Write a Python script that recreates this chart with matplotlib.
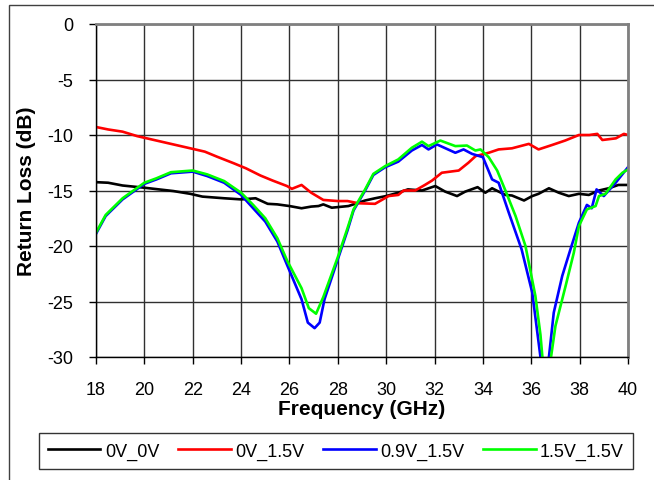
import matplotlib
matplotlib.use("Agg")
import matplotlib.pyplot as plt
from matplotlib.patches import Rectangle

plt.rcParams["font.family"] = ["Liberation Sans", "DejaVu Sans"]
plt.rcParams["axes.unicode_minus"] = False

# 0V_0V
f_00 = [18, 18.5, 19.1, 20, 21.2, 21.9, 22.4, 23.3, 24.0, 24.6, 25.1, 25.5, 26.0, 26.5,
        26.9, 27.2, 27.4, 27.75, 28.44, 29.13, 29.54, 30.0, 30.5, 30.9, 31.48, 32.03,
        32.44, 32.93, 33.27, 33.78, 34.1, 34.38, 34.93, 35.2, 35.7, 36.04, 36.3, 36.73,
        37.14, 37.55, 37.97, 38.38, 38.8, 39.2, 39.6, 40]
rl_00 = [-14.25, -14.3, -14.55, -14.75, -15.05, -15.3, -15.55, -15.7, -15.8, -15.7, -16.2,
         -16.25, -16.4, -16.6, -16.45, -16.4, -16.25, -16.55, -16.4, -15.9, -15.7, -15.5,
         -15.2, -14.9, -15.0, -14.6, -15.1, -15.5, -15.1, -14.7, -15.2, -14.8, -15.4,
         -15.45, -15.9, -15.5, -15.3, -14.8, -15.2, -15.5, -15.3, -15.4, -15.0, -14.8,
         -14.5, -14.5]

# 0V_1.5V
f_015 = [18, 18.5, 19.1, 19.7, 20.5, 21.2, 21.9, 22.5, 23.0, 23.7, 24.2, 24.8, 25.3, 25.9,
         26.1, 26.5, 26.9, 27.4, 28.0, 28.4, 28.85, 29.54, 30.1, 30.5, 30.72, 31.2, 31.6,
         31.9, 32.3, 33.0, 33.4, 33.7, 34.24, 34.65, 35.2, 35.9, 36.3, 36.86, 37.4, 37.97,
         38.4, 38.73, 38.94, 39.5, 39.83, 40]
rl_015 = [-9.28, -9.5, -9.7, -10.1, -10.5, -10.85, -11.2, -11.5, -11.95, -12.55, -13.0,
          -13.65, -14.1, -14.6, -14.85, -14.5, -15.2, -15.85, -15.95, -15.95, -16.15, -16.2,
          -15.5, -15.4, -15.0, -15.0, -14.5, -14.1, -13.4, -13.2, -12.5, -11.9, -11.6,
          -11.3, -11.2, -10.8, -11.3, -10.9, -10.5, -10.0, -10.0, -9.9, -10.45, -10.3,
          -9.9, -10.0]

# 0.9V_1.5V
f_0915 = [18, 18.4, 19.1, 20.0, 20.5, 21.1, 22.0, 22.6, 23.3, 24.0, 24.5, 25.0, 25.5, 25.9,
          26.5, 26.76, 27.04, 27.25, 27.45, 28.0, 28.4, 28.65, 29.13, 29.47, 29.96, 30.5,
          31.06, 31.48, 31.75, 32.1, 32.86, 33.2, 33.55, 34.0, 34.38, 34.65, 35.07, 35.6,
          36.04, 36.38, 36.5, 36.65, 36.73, 36.93, 37.28, 37.62, 37.97, 38.3, 38.5, 38.7,
          39.0, 39.49, 40.0]
rl_0915 = [-18.9, -17.3, -15.8, -14.4, -14.0, -13.45, -13.3, -13.7, -14.3, -15.4, -16.6,
           -17.8, -19.6, -21.7, -24.8, -26.9, -27.4, -26.9, -24.8, -21.2, -18.6, -16.8,
           -15.0, -13.6, -12.9, -12.4, -11.4, -10.9, -11.3, -10.85, -11.6, -11.3, -11.7,
           -12.0, -14.0, -14.3, -17.0, -20.3, -24.2, -30.0, -33.0, -32.0, -30.0, -26.0,
           -22.7, -20.3, -17.9, -16.3, -16.6, -14.9, -15.5, -14.3, -12.9]

# 1.5V_1.5V
f_1515 = [18, 18.4, 19.1, 20.0, 20.5, 21.1, 22.0, 22.6, 23.3, 24.0, 24.5, 25.0, 25.5, 25.9,
          26.5, 26.8, 27.1, 27.4, 28.0, 28.4, 28.65, 29.13, 29.47, 29.96, 30.5, 31.06,
          31.48, 31.75, 32.24, 32.86, 33.34, 33.69, 33.9, 34.24, 34.59, 34.93, 35.35,
          35.76, 36.17, 36.38, 36.5, 36.62, 36.75, 36.85, 37.0, 37.42, 37.76, 37.97, 38.3,
          38.66, 38.8, 39.07, 39.49, 39.77, 40.0]
rl_1515 = [-18.8, -17.2, -15.7, -14.3, -13.9, -13.35, -13.2, -13.55, -14.15, -15.2, -16.3,
           -17.5, -19.3, -21.3, -23.8, -25.6, -26.1, -24.6, -21.0, -18.4, -16.7, -14.9,
           -13.5, -12.8, -12.2, -11.15, -10.6, -11.0, -10.5, -11.0, -10.95, -11.4, -11.3,
           -12.0, -13.2, -15.0, -17.3, -20.0, -24.5, -28.0, -31.0, -33.0, -31.0, -29.5,
           -27.2, -23.6, -20.6, -18.2, -16.7, -16.4, -15.5, -15.3, -14.0, -13.4, -13.1]

series = [
    ("0V_0V", f_00, rl_00, "black"),
    ("0V_1.5V", f_015, rl_015, "#ff0000"),
    ("0.9V_1.5V", f_0915, rl_0915, "#0000ff"),
    ("1.5V_1.5V", f_1515, rl_1515, "#00ff00"),
]

fig = plt.figure(figsize=(6.54, 4.81), dpi=100)
ax = fig.add_axes([96 / 654, 1 - 358 / 481, (628 - 96) / 654, (358 - 25) / 481])

# outer chart border (runs off the right and bottom edges)
fig.patches.append(Rectangle((9 / 654, -0.2), 1.2, 1.2 - 6 / 481,
                             transform=fig.transFigure, fill=False,
                             edgecolor="#404040", lw=1))

for name, f, rl, c in series:
    ax.plot(f, rl, color=c, lw=1.9, label=name)

ax.set_xlim(18, 40)
ax.set_ylim(-30, 0)
ax.set_xticks(range(18, 41, 2))
ax.set_yticks(range(-30, 1, 5))
ax.grid(True, color="#303030", lw=1)
ax.set_axisbelow(True)
ax.tick_params(labelsize=13, length=5, width=1, color="black")
ax.tick_params(axis="x", pad=12)
ax.tick_params(axis="y", pad=11.5)

for s in ["top", "right"]:
    ax.spines[s].set_color("#808080")
    ax.spines[s].set_linewidth(2)
for s in ["left", "bottom"]:
    ax.spines[s].set_color("black")
    ax.spines[s].set_linewidth(1)

ax.set_xlabel("Frequency (GHz)", fontsize=15, fontweight="bold", labelpad=1)
ax.set_ylabel("Return Loss (dB)", fontsize=15, fontweight="bold", labelpad=8)

leg = fig.legend(loc="center", bbox_to_anchor=(336 / 654, 1 - 452 / 481), ncol=4,
                 fontsize=13, frameon=True, fancybox=False, handlelength=2.9,
                 handletextpad=0.25, columnspacing=1.05, borderpad=0.5)
leg.get_frame().set_edgecolor("black")
leg.get_frame().set_linewidth(1)

fig.savefig("out.png", dpi=100)
